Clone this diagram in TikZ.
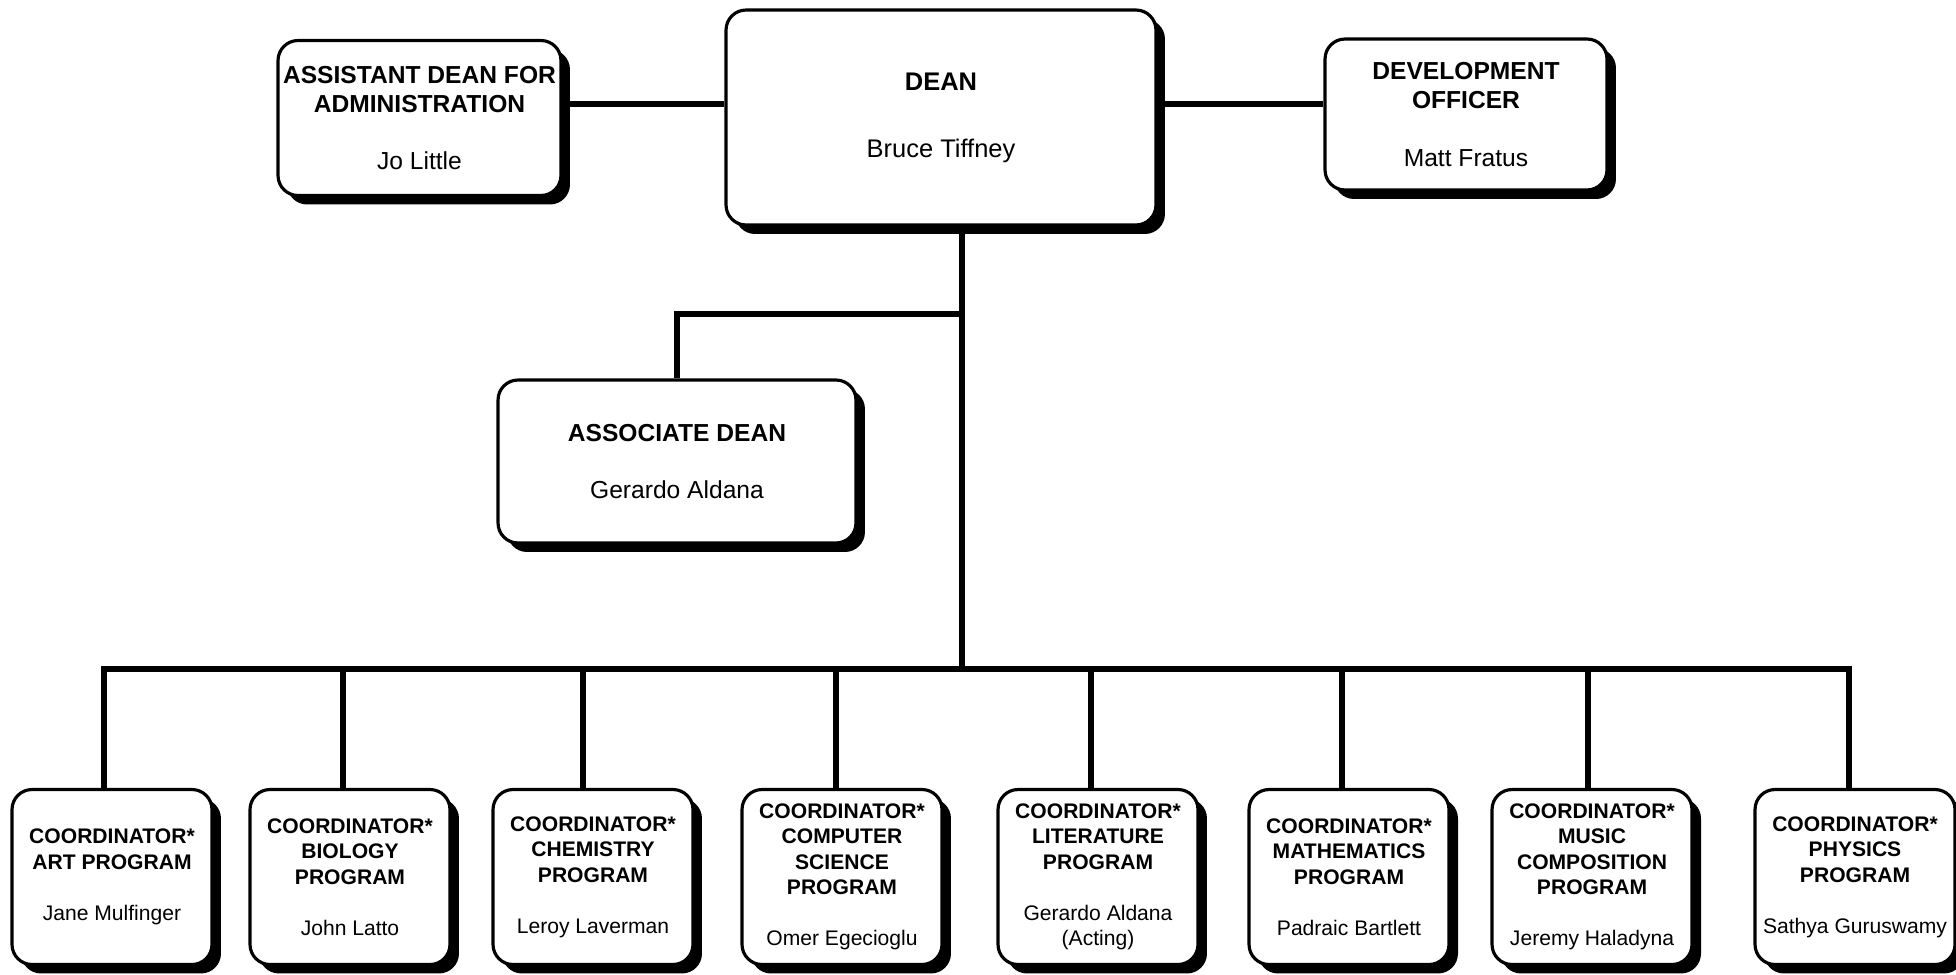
\documentclass[tikz,border=0pt]{standalone}
\usepackage{fontspec}
\setmainfont{Liberation Sans}
\usetikzlibrary{shadows}

\begin{document}
\begin{tikzpicture}[x=0.02cm, y=-0.02cm,
    box/.style = {shape=rectangle, rounded corners=0.4cm, draw, line width=1.8pt, fill=white, align=center, inner sep=1pt,
      drop shadow={shadow xshift=0.18cm, shadow yshift=-0.18cm, fill=black, opacity=1}},
    head/.style = {box, font=\fontsize{14}{16.4}\selectfont},
    coord/.style = {box, minimum width=4cm, minimum height=3.5cm, font=\fontsize{12}{14.5}\selectfont},
    link/.style = {line width=3.2pt, line join=miter}]
  \useasboundingbox (0,0) rectangle (1956,974);

  \node[head, minimum width=8.6cm, minimum height=4.3cm, font=\fontsize{14.5}{17}\selectfont] (dean) at (941,117.5)
    {\textbf{DEAN}\\[21pt]Bruce Tiffney};
  \node[head, minimum width=5.66cm, minimum height=3.1cm] (asst) at (419.5,118)
    {\textbf{ASSISTANT DEAN FOR}\\\textbf{ADMINISTRATION}\\[16.4pt]Jo Little};
  \node[head, minimum width=5.64cm, minimum height=3.02cm] (devel) at (1466,114.5)
    {\textbf{DEVELOPMENT}\\\textbf{OFFICER}\\[16.4pt]Matt Fratus};
  \node[head, minimum width=7.16cm, minimum height=3.26cm] (assoc) at (677,461.5)
    {\textbf{ASSOCIATE DEAN}\\[16.4pt]Gerardo Aldana};

  \node[coord] (art) at (112,877)
    {\textbf{COORDINATOR*}\\\textbf{ART PROGRAM}\\[14.5pt]Jane Mulfinger};
  \node[coord] (bio) at (350,877)
    {\textbf{COORDINATOR*}\\\textbf{BIOLOGY}\\\textbf{PROGRAM}\\[14.5pt]John Latto};
  \node[coord] (chem) at (593,877)
    {\textbf{COORDINATOR*}\\\textbf{CHEMISTRY}\\\textbf{PROGRAM}\\[14.5pt]Leroy Laverman};
  \node[coord] (cs) at (842,877)
    {\textbf{COORDINATOR*}\\\textbf{COMPUTER}\\\textbf{SCIENCE}\\\textbf{PROGRAM}\\[14.5pt]Omer Egecioglu};
  \node[coord] (lit) at (1098,877)
    {\textbf{COORDINATOR*}\\\textbf{LITERATURE}\\\textbf{PROGRAM}\\[14.5pt]Gerardo Aldana\\(Acting)};
  \node[coord] (math) at (1349,877)
    {\textbf{COORDINATOR*}\\\textbf{MATHEMATICS}\\\textbf{PROGRAM}\\[14.5pt]Padraic Bartlett};
  \node[coord] (music) at (1592,877)
    {\textbf{COORDINATOR*}\\\textbf{MUSIC}\\\textbf{COMPOSITION}\\\textbf{PROGRAM}\\[14.5pt]Jeremy Haladyna};
  \node[coord] (phys) at (1855,877)
    {\textbf{COORDINATOR*}\\\textbf{PHYSICS}\\\textbf{PROGRAM}\\[14.5pt]Sathya Guruswamy};

  \coordinate (lvl) at (0,104);
  \coordinate (split) at (962,314);
  \coordinate (hub) at (962,669);
  \draw[link] (asst.east |- lvl) -- (dean.west |- lvl);
  \draw[link] (dean.east |- lvl) -- (devel.west |- lvl);
  \draw[link] (hub |- dean.south) -- (hub);
  \draw[link] (split) -| (assoc.north);

  \foreach \n/\x in {art/104, bio/343, chem/583, cs/836, lit/1091, math/1342, music/1588, phys/1849} {
    \coordinate (d\n) at (\x,669);
    \draw[link] (d\n) -- (d\n |- \n.north);
  }
  \draw[link] (art.north -| dart) -- (dart) -- (dphys) -- (phys.north -| dphys);
\end{tikzpicture}
\end{document}
